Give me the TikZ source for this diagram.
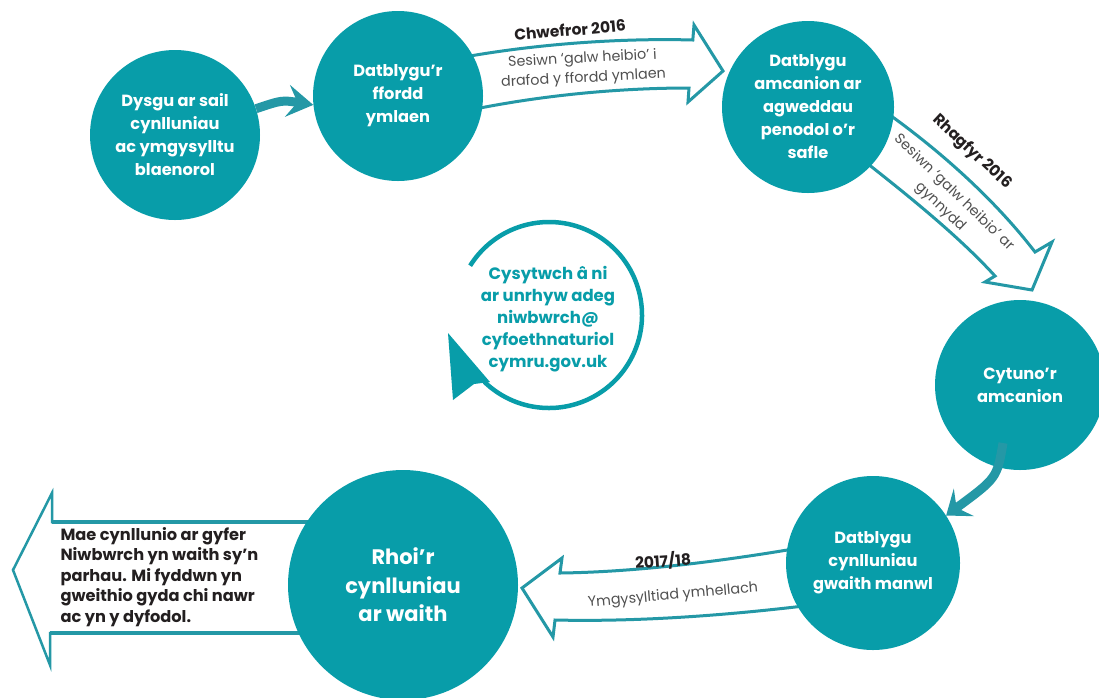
\documentclass[tikz,border=0pt]{standalone}
\usepackage{fontspec}
\setmainfont{Poppins}
\usetikzlibrary{arrows.meta}
\definecolor{teal1}{RGB}{8,157,169}
\definecolor{teal2}{RGB}{36,152,166}
\definecolor{graytxt}{RGB}{80,80,80}
\definecolor{darktxt}{RGB}{35,31,32}
\begin{document}
\begin{tikzpicture}[x=1pt,y=-1pt,
  stage/.style={circle, fill=teal1, text=white, font=\bfseries\fontsize{16.2}{23}\selectfont, align=center, inner sep=0pt},
  hollow/.style={draw=teal2, line width=3pt, fill=white, line join=miter},
  thickarrow/.style={draw=teal2, line width=9pt, -{Stealth[length=26pt,width=32pt,inset=10pt]}},
  thickarrowb/.style={draw=teal2, line width=9pt, -{Stealth[length=22pt,width=34pt,inset=9pt]}},
  note/.style={text=graytxt, font=\fontsize{14.3}{19.5}\selectfont, align=center},
  datelabel/.style={text=darktxt, font=\bfseries\fontsize{15.5}{17}\selectfont}
]
\useasboundingbox[fill=white] (0,0) rectangle (1099,697);

% hollow block arrows
\draw[hollow] (470,56) .. controls (540,44) and (620,38) .. (692.8,40) -- (694,25) -- (723,71) -- (688,102) -- (689,88) .. controls (620,88) and (545,95) .. (475,109) -- cycle;
\draw[hollow] (880,108) .. controls (940,150) and (995,200) .. (1035,252) -- (1052,242) -- (1032,290) -- (985,282) -- (995,276) .. controls (955,232) and (895,185) .. (845,146) -- cycle;
\draw[hollow] (805,547) .. controls (730,560) and (640,572) .. (560,573) -- (562,558) -- (522,588) -- (553,637) -- (555,620) .. controls (640,622) and (730,615) .. (812,605) -- cycle;

% big left arrow
\draw[teal2, line width=2.5pt, fill=white, line join=miter] (330,522) -- (52,522) -- (52,493) -- (13,570) -- (50,665) -- (50,633) -- (330,633);
\draw[teal2, line width=4.5pt] (52,522) -- (330,522) (50,633) -- (330,633);
\node[anchor=west, align=left, text=darktxt, font=\bfseries\fontsize{16.2}{20.5}\selectfont] (final) at (57,577)
  {Mae cynllunio ar gyfer\\Niwbwrch yn waith sy’n\\parhau. Mi fyddwn yn\\gweithio gyda chi nawr\\ac yn y dyfodol.};

% arrow labels
\node[datelabel, rotate=5] (d1) at (570,30) {Chwefror 2016};
\node[note, rotate=3] (n1) at (583,69) {Sesiwn ‘galw heibio’ i\\drafod y ffordd ymlaen};
\node[datelabel, rotate=-43] (d2) at (972,152) {Rhagfyr 2016};
\node[note, rotate=-44] (n2) at (947,200) {Sesiwn ‘galw heibio’ ar\\gynnydd};
\node[datelabel, rotate=4] (d3) at (663,561) {2017/18};
\node[note, rotate=5] (n3) at (673,596) {Ymgysylltiad ymhellach};

% stages
\node[stage, minimum size=170pt] (c1) at (175,135) {Dysgu ar sail\\cynlluniau\\ac ymgysylltu\\blaenorol};
\node[stage, minimum size=170pt] (c2) at (398,96) {Datblygu’r\\ffordd\\ymlaen};
\node[stage, minimum size=172pt] (c3) at (808,107) {Datblygu\\amcanion ar\\agweddau\\penodol o’r\\safle};
\node[stage, minimum size=170pt] (c4) at (1020,385) {Cytuno’r\\amcanion};
\node[stage, minimum size=174pt] (c5) at (873,563) {Datblygu\\cynlluniau\\gwaith manwl};
\node[stage, minimum size=230pt, font=\bfseries\fontsize{21}{28.5}\selectfont] (c6) at (403,585) {Rhoi’r\\cynlluniau\\ar waith};

% thick arrows
\draw[thickarrow] (c1.18) .. controls (282,100) .. (c2.186);
\coordinate (a4s) at (1003,443);
\draw[thickarrowb] (a4s) .. controls (997,478) .. (c5.33);

% centre ring
\coordinate (ringc) at (549,315);
\node[text=teal1, align=center, font=\bfseries\fontsize{16.5}{22}\selectfont] (ctr) at (548,319)
  {Cysytwch â ni\\ar unrhyw adeg\\niwbwrch@\\cyfoethnaturiol\\cymru.gov.uk};
\draw[teal1, line width=4.5pt] (ringc) ++(212:93) arc[start angle=212, end angle=494, radius=93];
\fill[teal1] (448,333) -- (490,382) -- (474,384) -- (453,400) -- cycle;
\end{tikzpicture}
\end{document}
